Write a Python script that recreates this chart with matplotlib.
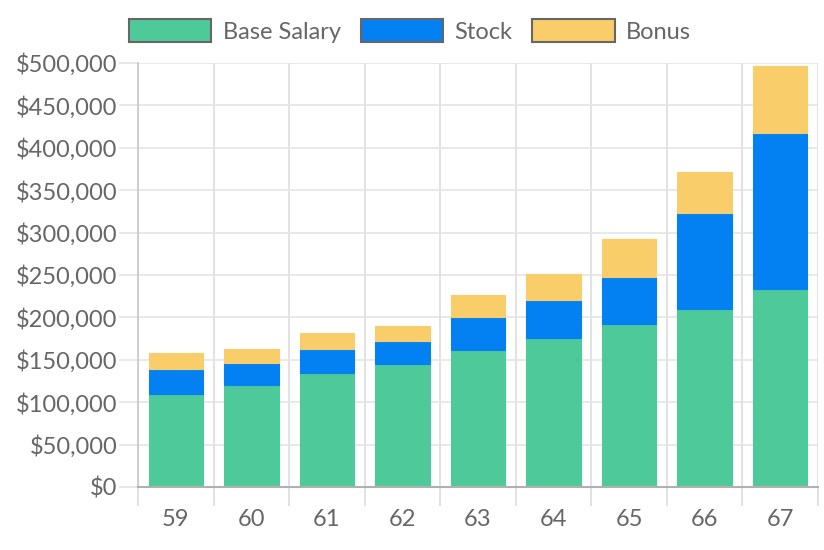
import matplotlib
matplotlib.use("Agg")
import matplotlib.pyplot as plt
import numpy as np
from matplotlib.ticker import FuncFormatter, MultipleLocator, FixedLocator

categories = ["59", "60", "61", "62", "63", "64", "65", "66", "67"]
base_salary = [110000, 120000, 135000, 145000, 161000, 176000, 192000, 210000, 234000]
stock = [29000, 26000, 28000, 27000, 39000, 45000, 56000, 113000, 183000]
bonus = [19000, 17000, 19000, 18000, 26000, 30000, 44000, 48000, 80000]
series_names = ["Base Salary", "Stock", "Bonus"]
colors = ["#4ECA9A", "#0380F2", "#F9CD6A"]

plt.rcParams['font.family'] = ['Lato', 'DejaVu Sans']
txt = "#666666"
fs = 17

fig = plt.figure(figsize=(8.24, 5.5), dpi=100)
ax = fig.add_axes([138/824, 1-487/550, (818-138)/824, (487-63)/550])

x = np.arange(len(categories))
w = 0.72
bottom = np.zeros(len(categories))
for name, vals, c in zip(series_names, [base_salary, stock, bonus], colors):
    ax.bar(x, vals, w, bottom=bottom, color=c, label=name, zorder=3,
           edgecolor=c, linewidth=0.8)
    bottom += np.array(vals)

ax.set_xlim(-0.5, len(categories) - 0.5)
ax.set_ylim(0, 500000)
ax.yaxis.set_major_locator(MultipleLocator(50000))
ax.yaxis.set_major_formatter(FuncFormatter(lambda v, p: f"${int(v):,}"))
ax.set_xticks(x)
ax.set_xticklabels(categories)
ax.xaxis.set_minor_locator(FixedLocator(np.arange(-0.5, len(categories), 1.0)))

ax.grid(True, which='major', axis='y', color='#e5e5e5', linewidth=1.2, zorder=0)
ax.grid(True, which='minor', axis='x', color='#dddddd', linewidth=1.2, zorder=0)
ax.tick_params(axis='y', which='major', length=14, width=1.2, color='#e5e5e5',
               labelsize=fs, labelcolor=txt, pad=1)
ax.tick_params(axis='x', which='major', length=0, labelsize=fs, labelcolor=txt, pad=16)
ax.tick_params(axis='x', which='minor', length=14, width=1.2, color='#dddddd')

for s in ['top', 'right']:
    ax.spines[s].set_visible(False)
ax.spines['left'].set_color('#c8c8c8')
ax.spines['bottom'].set_color('#b0b0b0')
ax.spines['left'].set_linewidth(1.2)
ax.spines['bottom'].set_linewidth(1.5)
ax.spines['left'].set_zorder(4)
ax.spines['bottom'].set_zorder(4)

h, l = ax.get_legend_handles_labels()
leg = fig.legend(h, l, loc='center', bbox_to_anchor=(410/824, 1-31/550), ncol=3,
                 frameon=False, fontsize=fs, handlelength=3.5, handleheight=1.1,
                 handletextpad=0.47, columnspacing=0.85, labelcolor=txt)
for p in leg.get_patches():
    p.set_edgecolor('#666666')
    p.set_linewidth(1.5)

fig.savefig("out.png", dpi=100)
